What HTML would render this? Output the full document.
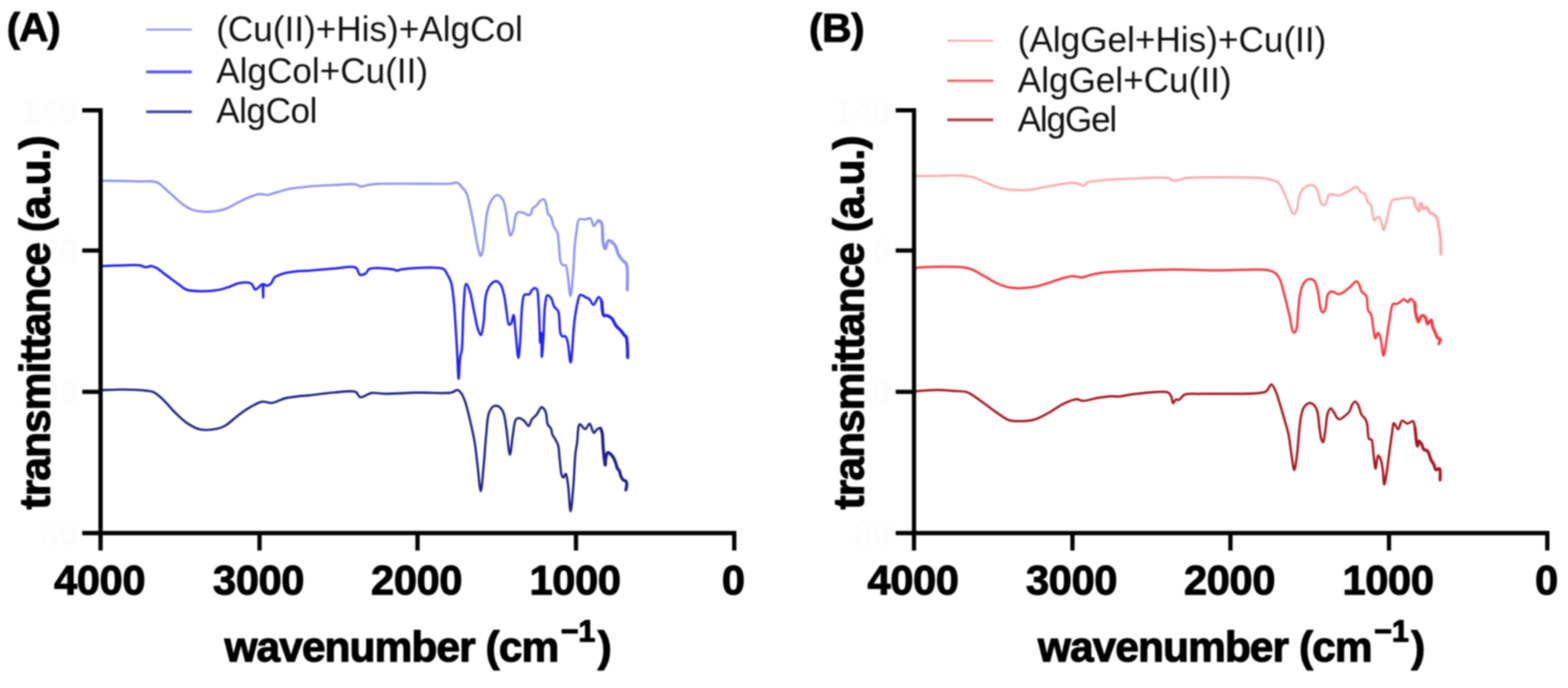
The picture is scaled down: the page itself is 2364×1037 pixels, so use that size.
<!DOCTYPE html>
<html><head><meta charset="utf-8"><title>FTIR spectra</title>
<style>
html,body{margin:0;padding:0;background:#fff;}
body{width:2364px;height:1037px;overflow:hidden;}
svg{display:block;}
text{font-family:"Liberation Sans",Arial,Helvetica,sans-serif;}
.b{font-weight:bold;fill:#000;}
.tick{font-size:63px;font-weight:bold;fill:#000;letter-spacing:-0.7px;stroke:#000;stroke-width:1.4px;stroke-linejoin:round;}
.ytick{font-size:52px;font-weight:bold;fill:#fdfdfd;}
.title{font-size:64px;font-weight:bold;fill:#000;letter-spacing:-1.4px;stroke:#000;stroke-width:1.6px;stroke-linejoin:round;}
.panel{font-size:62px;font-weight:bold;fill:#000;stroke:#000;stroke-width:1.2px;stroke-linejoin:round;}
.leg{font-size:53px;fill:#111;letter-spacing:0px;}
</style></head>
<body>
<svg width="2364" height="1037" viewBox="0 0 2364 1037">
<defs><filter id="soft" x="0" y="0" width="1" height="1" filterUnits="objectBoundingBox" color-interpolation-filters="sRGB"><feGaussianBlur stdDeviation="0.8"/></filter></defs>
<rect width="2364" height="1037" fill="#fff"/>
<g filter="url(#soft)">
<rect width="2364" height="1037" fill="#fff"/>
<g class="ytick">
<text x="118" y="184.7" text-anchor="end">140</text>
<text x="118" y="396.1" text-anchor="end">120</text>
<text x="118" y="609.1" text-anchor="end">100</text>
<text x="118" y="822" text-anchor="end">80</text>
<text x="1344.4" y="184.7" text-anchor="end">140</text>
<text x="1344.4" y="396.1" text-anchor="end">120</text>
<text x="1344.4" y="609.1" text-anchor="end">100</text>
<text x="1344.4" y="822" text-anchor="end">80</text>
</g>
<g fill="none" stroke-linejoin="round" stroke-linecap="round">
<path d="M151.6,272.8C152.2,272.8 153.3,272.6 155,272.6C160.3,272.5 178,272.6 188,272.8C196.4,273 203.6,273.4 211,273.5C218,273.6 226.1,272.7 231.2,273.5C234.4,274 236.1,274.5 238.8,276C242.7,278.2 247.3,283.1 251.5,286.8C255.8,290.5 259.9,294.5 264.2,298.2C268.4,301.9 272.5,306 276.9,309C281,311.8 284.8,314.3 289.6,316C295.2,317.9 302.2,318.9 308.6,319.2C314.9,319.5 322,318.8 327.7,317.9C332.4,317.2 336.3,316.2 340.4,314.7C344.7,313.1 348.4,310.7 353,308.4C358.7,305.6 365.6,301.6 372,298.9C378.3,296.3 385.3,293.1 391.1,292.5C395.7,292 399.6,294.2 403.8,293.8C408.1,293.4 411.8,291.3 416.5,290C422.2,288.4 429.6,286.1 435.5,284.9C440.6,283.8 445.1,283.3 450,282.7C455,282.1 459.1,281.6 465.4,281.1C475.3,280.3 491.3,279.4 503.5,278.9C514.9,278.4 529.6,276.5 536.4,277.9C539.7,278.6 540.8,280.8 543.4,281.1C546.6,281.5 550.4,279.5 554.2,278.9C558.2,278.2 561,277.7 566.9,277.3C580,276.4 610.4,277.1 630.4,277C648.3,276.9 671.7,277.6 681.1,276.6C684.8,276.2 686.5,274.6 688.7,275.1C690.7,275.5 692.7,277.5 693.8,278.6C694.4,279.3 694.4,279.8 695,280.6C696.3,282.3 699.8,285.6 701.4,288C702.7,290 703.4,291.3 704.3,293.9C705.9,298.3 707.4,305.9 708.9,312.4C710.5,319.7 712.1,327.6 713.6,335.5C715.2,343.8 716.7,353.3 718.2,361C719.4,367.3 720.4,373.7 721.7,378.3C722.6,381.4 723.5,385.9 724.5,385.9C725.4,385.9 726.6,382.5 727.4,379.5C729.1,373.2 729.7,359.3 730.9,349.4C732.1,339.7 732.5,328.8 734.4,320.5C735.9,313.9 737.3,307.7 740.2,303.1C742.6,299.2 746.3,294.2 749.4,293.9C752.1,293.7 755.5,296.9 757.5,299.7C760.1,303.3 760.8,309.1 762.1,314.7C763.7,321.5 764.2,330.8 765.6,337.9C766.8,344.1 768,355 769.7,355.2C770.9,355.3 772.6,350.5 773.7,347.1C775.4,341.9 775.5,331.2 777.2,326.3C778.2,323.4 778.8,320.9 780.7,319.9C782.8,318.8 787.1,320.3 789.9,321.1C792.5,321.9 795,324.5 796.9,324.5C798.2,324.5 799.4,323.9 800.3,322.8C801.6,321.2 801.1,317 802.6,314.7C804.2,312.3 807.6,311 809.6,308.9C811.4,306.9 812.3,304 814.2,302.6C815.8,301.4 818.3,300 819.8,300.5C821.3,301.1 822.2,303.7 823.1,306.2C824.6,310.2 824.5,319.1 826.4,322.6C827.5,324.7 829.3,324.7 830.5,326.7C832.4,329.8 832.8,336.5 834.6,340.7C836.2,344.4 838.9,346.5 840.3,350.5C842.1,355.8 842,363.3 842.8,370.2C843.7,377.9 843.4,389.9 845.2,394.8C846.1,397.2 847.1,399 848.5,399.7C849.7,400.3 851.5,398.8 852.6,399.7C854.7,401.4 854.9,408.5 855.9,414.4C857.4,423 858.8,446.3 860.1,446.3C861.5,446.3 863,423.3 864.1,411.1C865.2,398 865.6,381.4 866.6,370.2C867.3,362.4 867.9,357 869,350.5C870.1,343.9 869.9,333.4 873.1,330.8C875.3,329 879.2,331.1 882.1,330.8C884.9,330.5 888.2,328.1 890.3,329.2C892.9,330.6 893.2,340.4 895.2,340.7C897.1,341 899.6,332.8 901.8,332.5C903.4,332.2 905.5,333.6 906.7,335.7C909.5,340.4 907.7,358 909.2,365.2C910.1,369.4 911.2,375.1 912.5,375.1C913.9,375.1 914.9,363.6 917.4,362.8C919.7,362.1 924,365.6 926.4,368.5C929.5,372.3 930.5,380.5 933,384.9C935,388.3 937.4,390.8 939.5,393.1C941.2,395 943.2,395.2 944.4,398C947.3,404.6 945.5,430.5 945.7,437" stroke="#9090f6" stroke-width="3.4" />
<path d="M901.8,332.5C902.6,333 905.5,333.6 906.7,335.7C909.5,340.4 907.7,358 909.2,365.2C910.1,369.4 911.2,375.1 912.5,375.1C913.9,375.1 914.9,363.6 917.4,362.8C919.7,362.1 924,365.6 926.4,368.5C929.5,372.3 930.5,380.5 933,384.9C935,388.3 937.4,390.8 939.5,393.1C941.2,395 943.2,395.2 944.4,398C947.3,404.6 945.5,430.5 945.7,437" stroke="#9090f6" stroke-width="4.6" />
<path d="M151.6,400.9C152,400.9 152.7,400.9 153.8,400.9C157.3,400.9 167.3,400.4 175.4,400.3C185.8,400.1 203.1,398.8 210.9,400C214.9,400.6 216.9,402.7 219.8,402.8C222.4,402.9 224.8,400.8 227.4,400.9C230.3,401 233.1,402.4 236.3,404.1C240.9,406.6 246.1,411.5 251.5,415.5C257.5,419.9 265.2,425.7 270.6,429.5C274.5,432.3 276.5,434.9 280.7,436.5C286.3,438.6 294.6,438.8 302.3,439C311,439.2 322.2,438.4 330.2,436.9C336.5,435.7 341.6,433.8 346.7,432C351.2,430.4 354.6,427.9 359.4,427C365,426 374.1,424.9 378.4,427.2C381.7,429 382.6,436 384.8,436.5C386.4,436.8 388.3,434.5 389.8,433.3C391.2,432.2 392.5,430.4 393.7,429.5C394.6,428.9 395.7,427.8 396.3,428.2C398,429.2 396.6,448.5 396.8,448.5C397,448.5 395.1,429.5 397.3,428.2C398.5,427.5 400.7,430.9 402.5,430.8C404.5,430.7 407.1,428.8 408.9,427C411,424.8 411.3,420.5 414,418.1C417.4,415.1 423.6,413.3 429.2,411.7C435.5,409.9 443.6,409.2 450,408.6C455.5,408.1 459.1,408.3 465.4,407.9C475.3,407.3 491.3,405.4 503.5,404.7C514.9,404 530.1,400 536.4,403.5C540.3,405.6 540,413.2 542.8,414.3C545.2,415.3 549.3,413.3 551.7,411.7C553.9,410.2 553.8,406.8 556.8,405.4C563,402.5 585.3,404.9 592.3,406C595.3,406.5 596.5,407.9 598.6,407.9C600.7,407.9 601.7,406.5 605,406C615.1,404.5 659.5,401.1 668.4,405.4C671.6,406.9 671.7,409 673.3,411.6C675.5,415.1 678.1,419.5 679.8,424.8C682.1,431.9 682.8,441.8 683.9,451C685.1,461.3 685.6,472.3 686.4,483.8C687.3,496.7 688.1,510.7 688.9,524.8C689.8,539.7 690.6,571 691.5,571C692.3,571 692.6,545.7 693.8,537.9C694.5,533.6 695.5,532.7 696.2,528C697.8,516.4 697.4,485.4 698.7,467.4C699.8,452.8 700.2,428.5 702.8,428C704.3,427.7 706.8,434.7 708.5,439.5C711,446.7 712.3,458 714.3,467.4C716.4,477.1 718.4,490.2 720.8,496.9C722.1,500.6 723.7,505.2 724.9,505.1C726.6,504.9 727.8,494.4 729,487C730.8,475.5 730.1,453.4 733.1,442.8C734.9,436.3 737.3,431.2 740.5,428C742.9,425.6 746.2,423.6 748.7,423.9C751.1,424.2 753.4,426.9 755.2,429.7C757.7,433.6 758.9,440.2 760.2,446.1C761.7,452.7 762.2,460.2 763.4,467.4C764.6,474.7 765.3,488.6 767.5,489.5C768.4,489.9 769.9,488.4 770.8,487C772.4,484.6 773.1,474.7 774.1,474.8C775.5,474.9 776.3,492 777.4,501.8C778.7,513.3 780.3,539.5 781.5,539.5C782.6,539.5 783.5,522.4 784.4,511.6C785.6,496.9 785.7,471.3 787.4,459.2C788.3,452.7 788.2,446.7 790.7,444.4C792.4,442.8 796.2,444.8 798,443.6C799.7,442.5 799.9,439.5 801.3,437.9C802.7,436.4 804.7,434.4 806.2,434.3C807.4,434.2 808.6,434.9 809.5,436.2C811.7,439.5 811.3,450.7 812,459.2C812.8,469.8 813.2,484.8 813.6,495.2C813.9,503.3 813.9,516.6 814.4,516.6C814.8,516.6 815.7,501.8 816.1,501.8C816.7,501.8 816.3,537.9 816.9,537.9C817.4,537.9 818.6,519.5 819.3,508.4C820.2,494.1 820.2,470.6 821.8,459.2C822.7,453.1 823,446 825.1,445.2C826.5,444.7 829.2,447.2 830.8,449.3C833.1,452.3 833.6,459 835.7,462.5C837.3,465.2 840,465.7 841.5,469C844.4,475.5 843.1,495.8 844.8,501.8C845.5,504.2 845.9,505.9 847.2,506.7C848.4,507.5 850.8,505.9 852.1,506.7C853.7,507.7 854.4,510.1 855.4,513.3C857.5,520 858.7,546.3 860.2,546.3C862.1,546.3 863.9,504.4 865.2,492C865.9,485.5 866.2,482.5 867,477.1C868,470.6 869.3,461.4 870.9,455.5C872,451.2 872.4,445.7 874.7,444.7C876.9,443.7 881.5,447.4 884,448.6C885.8,449.4 887.1,449.6 888.6,450.9C890.7,452.7 892.7,459.4 894.8,459.4C897.3,459.3 900.2,447.9 902.5,447.8C904.2,447.8 905.9,451.1 907.1,454C909.1,458.9 907.6,473.3 910.2,475.6C911.4,476.6 913.1,475.1 914.8,475.6C917.1,476.2 920.3,478 922.5,480.2C925.1,482.8 926.3,487.8 928.7,491C931,494 934.2,496.2 936.4,498.7C938.2,500.8 939.6,503.2 941,504.9C942.1,506.2 943.3,506.2 944.1,508C946.3,512.8 946,533.7 946.4,538.8" stroke="#1e1eff" stroke-width="3.5" />
<path d="M907.1,454C907.6,457.6 907.6,473.3 910.2,475.6C911.4,476.6 913.1,475.1 914.8,475.6C917.1,476.2 920.3,478 922.5,480.2C925.1,482.8 926.3,487.8 928.7,491C931,494 934.2,496.2 936.4,498.7C938.2,500.8 939.6,503.2 941,504.9C942.1,506.2 943.3,506.2 944.1,508C946.3,512.8 946,533.7 946.4,538.8" stroke="#1e1eff" stroke-width="4.7" />
<path d="M151.6,588C152,588 152.6,588 153.8,588C158.2,587.9 174.7,587 185.5,587.1C196.7,587.2 211.5,587.8 219.8,588.8C224.6,589.4 227.4,589.2 231.2,590.9C235.9,593 240.4,597.3 245.2,601.7C251.3,607.2 257.7,615.7 264.2,622C270.4,628 276.5,634.2 283.2,638.5C289.3,642.5 295.3,646 302.3,647.4C310,648.9 320.8,647.6 327.7,646.1C332.8,645 336,643.7 340.4,641.1C346.3,637.6 353,630.5 359.4,625.8C365.6,621.2 372.2,616.6 378.4,613.1C384,610 389.4,606.4 394.9,605.5C400,604.7 404.9,608 410.2,607.4C416.3,606.7 422.6,602.2 429.2,600.5C435.9,598.8 443.6,598.1 450,597.3C455.5,596.6 459.1,596.6 465.4,596C475.3,595 491.2,592.4 503.5,591.6C514.9,590.8 530,588 536.4,590.9C539.9,592.5 540,597.8 542.8,598.6C545.8,599.5 551,595.9 554.2,594.7C556.7,593.8 557.8,592.6 560.6,592.2C565.2,591.5 571.7,593.4 579.6,593.5C592.4,593.7 613.5,592.1 630.4,591.8C647.3,591.5 671.5,593.7 681.1,591.6C685.2,590.7 687,587.5 689.4,587.8C691.6,588 693.4,590.1 695.1,592.2C697.5,595.1 699.1,599.6 701,604.7C703.7,612 706,622.4 708.3,632.1C710.9,643 713.7,655.2 715.7,667C717.7,679 718.7,691.4 720.2,703.6C721.7,715.8 723.3,740.3 724.8,740.3C726.4,740.3 728,713.9 729.4,700C730.8,685.2 731.6,668.1 733.1,654.1C734.4,642.2 734.4,628.5 737.6,621.2C739.5,616.8 742.2,613.1 745,612C747.2,611.1 750.2,611.7 752.3,612.9C754.9,614.4 757,617.5 758.7,621.2C761.3,626.9 761.8,636 763.3,645C765.2,656.7 767,685.3 768.8,685.3C770.4,685.3 771.7,663.6 773.4,654.1C774.8,646.1 775.1,635.4 778,632.1C779.5,630.4 781.6,630.1 783.5,630.3C785.8,630.6 788.6,633 790.8,634.9C793.2,636.9 795.4,642.5 797.2,642.2C799.1,641.9 799.8,635 801.8,632.1C803.8,629.3 806.8,627.6 809.1,624.8C811.7,621.6 814.1,614.2 816.4,613.8C818,613.6 819.9,616 821,617.5C822.2,619.1 822.6,620.7 823.3,623.1C824.4,627.1 824,635.4 825.7,639.5C826.9,642.4 829.5,643.5 830.7,646.1C832,648.9 831.9,653.3 833.1,655.9C834,657.9 835.3,658.8 836.4,660.8C838,663.5 840.1,666.6 841.3,670.7C843,676.3 842.9,684.6 843.8,692C844.8,699.9 845.2,712.4 847,716.6C847.7,718.3 848.7,719.9 849.5,719.8C850.6,719.7 851.8,714 852.8,714.1C854.2,714.3 855.1,722.1 856.1,728C857.8,738.3 858.8,770.7 860.2,770.7C861.5,770.7 863.1,747.7 864.3,734.6C865.7,719.1 866.2,696 867.5,683.8C868.3,676.8 869.1,673.6 870,667.4C871.2,659.3 870.9,640.7 874.1,639.5C876.1,638.8 879.8,647.1 882.3,646.9C884.7,646.7 886.9,638.5 888.9,638.7C891.3,639 893.1,652.3 895.4,652.6C897,652.8 898.4,648.1 900.3,646.9C901.9,645.9 904.3,644.8 905.5,645.5C906.9,646.3 907.2,649.3 907.8,652.2C908.9,657.4 908.8,667.4 909.4,674.4C909.9,680.6 910.5,687.2 911.1,692.1C911.5,695.6 912.1,701 912.5,701C913,701 912.9,691.1 913.9,687.7C914.6,685.4 915.3,682.4 916.6,682.1C917.9,681.8 920.2,684.2 921.6,685.5C922.9,686.8 923.9,688.2 924.9,689.9C926.2,692.1 927.4,695.1 928.3,697.7C929.2,700.2 929.4,703.3 930.5,705.4C931.4,707.2 932.9,708 933.8,709.8C934.9,712 935,715.3 936,717.6C936.9,719.7 938,721.9 939.4,723.2C940.6,724.3 942.9,724.2 943.8,725.4C944.7,726.5 944.9,728.2 945,730C945.1,732.4 943.8,737.1 943.5,738.5" stroke="#1e1e8a" stroke-width="3.4" />
<path d="M905.5,645.5C905.9,646.6 907.2,649.3 907.8,652.2C908.9,657.4 908.8,667.4 909.4,674.4C909.9,680.6 910.5,687.2 911.1,692.1C911.5,695.6 912.1,701 912.5,701C913,701 912.9,691.1 913.9,687.7C914.6,685.4 915.3,682.4 916.6,682.1C917.9,681.8 920.2,684.2 921.6,685.5C922.9,686.8 923.9,688.2 924.9,689.9C926.2,692.1 927.4,695.1 928.3,697.7C929.2,700.2 929.4,703.3 930.5,705.4C931.4,707.2 932.9,708 933.8,709.8C934.9,712 935,715.3 936,717.6C936.9,719.7 938,721.9 939.4,723.2C940.6,724.3 942.9,724.2 943.8,725.4C944.7,726.5 944.9,728.2 945,730C945.1,732.4 943.8,737.1 943.5,738.5" stroke="#1e1e8a" stroke-width="4.6" />
<path d="M1378,265.4C1378.1,265.4 1378.2,265.4 1378.5,265.4C1381,265.4 1403.2,265.3 1414.1,265.1C1423.3,264.9 1431.6,264.3 1439.5,264.4C1446.3,264.5 1452.8,264.5 1458.5,265.4C1463.2,266.1 1466.6,267 1471.2,268.6C1477,270.6 1483.8,274.3 1490.2,276.8C1496.5,279.3 1502.8,282.2 1509.2,283.8C1515.5,285.3 1521.5,285.9 1528.3,286.3C1536.1,286.7 1545.3,286.7 1553.7,285.9C1562.2,285.1 1570.6,282.7 1579,281.2C1587.5,279.7 1597.4,277.8 1604.4,276.8C1609.3,276.1 1613.1,275.3 1617.1,275.5C1620.7,275.6 1624.3,276.5 1627.3,277.4C1629.7,278.1 1631.6,280.3 1633.6,280C1635.8,279.7 1637.2,276.1 1640,274.9C1643.8,273.2 1649.7,273.1 1655.2,272.4C1661.6,271.6 1668.5,271 1676,270.5C1684.7,269.9 1693,269.7 1704.1,269.4C1720,269 1752.9,266.1 1762.4,268.6C1765.8,269.5 1766.3,271.9 1768.8,272.4C1772,273 1777,271.2 1780.2,270.5C1782.7,269.9 1783.1,269.1 1786.6,268.6C1801.6,266.4 1892.1,267 1907.1,268.9C1910.6,269.3 1911,269.8 1913.5,270.5C1917,271.5 1923,272 1926.2,274.3C1929.1,276.4 1930.6,279.7 1932.5,283.1C1934.8,287.1 1936.8,292.2 1938.8,297.1C1941,302.3 1943,309 1945.2,313.6C1946.9,317.1 1948.5,322.4 1950.3,322.5C1951.8,322.6 1953.8,319.3 1955.1,316.5C1957.2,311.9 1956.8,302 1958.7,296.3C1960.2,291.8 1961.6,287.6 1964.5,284.7C1967.4,281.8 1972.6,279.1 1976,278.9C1978.7,278.8 1981.4,280 1983.3,281.8C1985.5,284 1986.3,288.2 1987.6,291.9C1989.2,296.3 1990,303.6 1991.9,306.4C1993,308 1994.4,309.3 1995.6,309.3C1996.8,309.3 1998.1,307.9 1999.2,306.4C2001,303.8 2001.4,295.2 2003.5,293.4C2004.7,292.4 2006.1,292.7 2007.8,292.7C2010.5,292.8 2014.9,295.1 2018,294.8C2020.6,294.6 2022.7,293 2025.2,291.9C2028,290.7 2030.8,289.1 2033.9,287.6C2037.5,285.8 2042.4,281.2 2045.4,281.8C2047.9,282.3 2049,287 2051.2,289C2053.4,290.9 2056.7,291.1 2058.5,293.4C2060.6,296.1 2060.3,302.6 2062.1,305C2063.3,306.6 2065.3,306.2 2066.4,307.8C2068.3,310.6 2068.2,317.9 2069.3,322.3C2070.2,326 2070.6,332 2072.2,332.4C2073.6,332.8 2076.3,326.5 2078,326.6C2079.4,326.7 2080.5,328.9 2081.6,331C2083.4,334.5 2084.4,346.9 2085.9,346.9C2087.3,346.9 2088.9,337.5 2090.3,332.4C2091.8,326.9 2093.1,320.4 2094.6,315.1C2096,310.4 2096.2,304.6 2098.9,302.1C2101.3,299.9 2106,300.6 2109.1,299.9C2111.7,299.3 2113.7,298.8 2116.3,298.4C2119.4,298 2123.7,297.2 2126.4,297.6C2128.4,297.9 2130,298.3 2131.3,299.7C2133.2,301.9 2133.2,308 2134.7,311.3C2136,314 2138.2,318.4 2139.4,318.2C2140.8,317.9 2140.9,306.7 2142.2,306.6C2143.3,306.5 2144.6,314.1 2146.3,314.7C2147.6,315.1 2149.5,312 2150.9,312.4C2152.8,313 2153.7,318.8 2155.6,320.5C2157,321.8 2158.6,321.8 2160.2,322.8C2162.1,324 2164.5,325.1 2166,327.5C2168.2,331.1 2168.4,338.2 2169.4,343.7C2170.4,349.4 2171.3,354.9 2171.8,361C2172.4,367.9 2172.2,379.3 2172.3,383" stroke="#fbabae" stroke-width="3.4" />
<path d="M2131.3,299.7C2131.9,301.6 2133.2,308 2134.7,311.3C2136,314 2138.2,318.4 2139.4,318.2C2140.8,317.9 2140.9,306.7 2142.2,306.6C2143.3,306.5 2144.6,314.1 2146.3,314.7C2147.6,315.1 2149.5,312 2150.9,312.4C2152.8,313 2153.7,318.8 2155.6,320.5C2157,321.8 2158.6,321.8 2160.2,322.8C2162.1,324 2164.5,325.1 2166,327.5C2168.2,331.1 2168.4,338.2 2169.4,343.7C2170.4,349.4 2171.3,354.9 2171.8,361C2172.4,367.9 2172.2,379.3 2172.3,383" stroke="#fbabae" stroke-width="4.6" />
<path d="M1378,403.5C1378.3,403.5 1378.8,403.5 1379.8,403.5C1383.6,403.4 1397.3,402.3 1407.7,402.2C1420.8,402 1441.8,401.8 1452.1,403.1C1457.7,403.8 1460.3,404.3 1464.8,406C1470.7,408.2 1477.6,412.7 1483.9,416.2C1490.3,419.7 1496.4,424.1 1502.9,427C1509.1,429.8 1515.5,432.1 1521.9,433.3C1528.2,434.5 1534.6,434.5 1541,434.3C1547.3,434.1 1553.7,433.5 1560,432.3C1566.4,431.1 1572.2,429 1579,427C1586.9,424.6 1597.3,420.5 1604.4,418.7C1609.3,417.4 1612.7,416.4 1617.1,416.2C1621.9,416 1627.8,418.5 1632.3,418.1C1636.1,417.8 1638.5,415.9 1642.5,414.9C1647.8,413.5 1655.6,412 1661.5,411.1C1666.6,410.4 1670.2,410.2 1676,409.8C1684.8,409.2 1696.7,408.7 1709.4,408.2C1726.1,407.5 1746.9,406.5 1767.3,406.3C1790.1,406.1 1815.5,407.4 1839.6,407.5C1863.7,407.6 1898.9,404.8 1911.9,407.2C1916.9,408.1 1919.1,409 1922,411.1C1925,413.3 1927.2,416.4 1929.3,420.5C1932.4,426.6 1934.2,436.5 1936.5,445.1C1939,454.3 1941.3,464.5 1943.7,474C1946,483.3 1947.9,500.9 1950.5,501.5C1951.7,501.8 1953.3,499.4 1954.3,497C1956.5,491.9 1956.2,478.5 1957.2,469.5C1958.2,460.7 1958.4,451.2 1960.1,443.5C1961.5,437.1 1962.8,430.1 1965.9,426.2C1968.3,423.1 1972.4,420.4 1975.3,420.4C1977.9,420.4 1980.6,422.2 1982.5,424.7C1985.4,428.5 1986.1,436.8 1987.6,443.5C1989.3,451.1 1989.8,464 1991.9,468.1C1992.8,469.7 1993.8,471.1 1994.8,471C1996,470.9 1997.4,467.9 1998.4,465.2C2000.2,460.4 1999.5,447.7 2002.1,443.5C2003.6,441.1 2005.5,439.5 2007.8,439.2C2010.6,438.8 2014.9,443.5 2018,443.5C2020.6,443.5 2022.7,442 2025.2,440.6C2028.4,438.7 2032,435.4 2035.3,432.7C2038.7,429.9 2042.9,423.7 2045.4,424C2047.4,424.3 2048.6,428.1 2049.8,430.5C2051.1,433.1 2051.1,436.6 2052.7,439.2C2054.4,441.9 2058.2,443 2059.9,446.4C2062.4,451.4 2060.9,463.3 2062.8,468.1C2063.9,470.8 2066,471.3 2067.1,473.9C2068.8,478 2068.9,485.3 2070,491.2C2071.1,497.3 2072.1,509.8 2073.6,510C2074.7,510.1 2076,501.5 2077.3,501.4C2078.4,501.3 2079.8,504.3 2080.9,507.1C2083.1,512.9 2084.2,536.1 2085.9,536.1C2087.4,536.1 2088.9,521.1 2090.3,512.9C2091.8,503.8 2092.9,493.3 2094.6,484C2096.3,475.1 2097.3,460.3 2100.4,458C2101.7,457.1 2103.3,458.6 2104.8,458.3C2106.6,457.9 2108.7,456.6 2110.6,455.4C2112.6,454.2 2114.4,451.2 2116.4,451.1C2118.5,451 2121.5,455.8 2123.1,455.4C2124.5,455.1 2124.7,450.8 2126,450.6C2127.7,450.3 2131.3,453.5 2132.8,456.4C2134.9,460.4 2133.6,468.7 2134.7,473.8C2135.6,478.1 2137.3,485.2 2138.6,485.3C2139.6,485.3 2140.3,480.3 2141.5,478.6C2142.4,477.3 2143.2,475.8 2144.4,475.7C2145.7,475.5 2148,477 2149.2,478.6C2150.8,480.7 2150.5,487.8 2152.1,488.2C2153.5,488.6 2156.6,482 2157.9,482.4C2159.3,482.8 2158.8,489 2159.8,492.1C2160.7,495.1 2162.3,497.9 2163.6,500.8C2164.9,503.7 2165.8,507.7 2167.5,509.4C2168.6,510.6 2170.9,510.2 2171.4,511.4C2172,512.9 2169.7,517 2169.4,518.1" stroke="#f43a42" stroke-width="3.5" />
<path d="M2132.8,456.4C2133.1,459.3 2133.6,468.7 2134.7,473.8C2135.6,478.1 2137.3,485.2 2138.6,485.3C2139.6,485.3 2140.3,480.3 2141.5,478.6C2142.4,477.3 2143.2,475.8 2144.4,475.7C2145.7,475.5 2148,477 2149.2,478.6C2150.8,480.7 2150.5,487.8 2152.1,488.2C2153.5,488.6 2156.6,482 2157.9,482.4C2159.3,482.8 2158.8,489 2159.8,492.1C2160.7,495.1 2162.3,497.9 2163.6,500.8C2164.9,503.7 2165.8,507.7 2167.5,509.4C2168.6,510.6 2170.9,510.2 2171.4,511.4C2172,512.9 2169.7,517 2169.4,518.1" stroke="#f43a42" stroke-width="4.7" />
<path d="M1378,590C1378.1,590 1378.2,590 1378.5,590C1380.9,589.9 1400.9,587.9 1411.5,587.8C1421.2,587.7 1431.2,588.7 1439.5,589.3C1446.1,589.8 1452.6,589.6 1457.2,590.9C1460.4,591.8 1461.8,592.9 1464.8,594.7C1469.8,597.7 1477.6,603.6 1483.9,608.1C1490.3,612.7 1496.5,617.7 1502.9,622C1509.1,626.2 1515.3,631.4 1521.9,633.5C1528,635.4 1534.7,634.9 1541,634.7C1547.4,634.5 1553.8,634 1560,632.2C1566.5,630.3 1572.3,626.9 1579,623.3C1587,619.1 1596.3,611.8 1604.4,608.1C1611,605 1618.3,601.8 1623.5,601.7C1627,601.6 1628.7,604.1 1632.3,604.3C1638.1,604.6 1647.7,601 1655.2,599.8C1662.3,598.7 1670,597.6 1676,597.3C1680.4,597.1 1683.2,597.9 1687.7,597.6C1693.8,597.2 1700.6,594.9 1709.4,594C1723,592.6 1754,588.2 1761.5,591.8C1764.3,593.1 1764.7,595.3 1765.8,597.6C1767.2,600.4 1767.3,607.4 1768.7,607.7C1769.8,607.9 1771.3,602.7 1773,602C1774.3,601.5 1775.8,603.2 1777.4,602.7C1780,601.9 1782.1,596.4 1786.1,594.7C1791.9,592.3 1800,593.9 1810.7,593.6C1830.8,593 1882,594.4 1897.4,592.5C1903.1,591.8 1905.8,591.8 1909,589.7C1912.4,587.5 1914.6,579.3 1917,579.5C1919.4,579.7 1921.6,586.2 1923.5,590.4C1925.8,595.4 1927.3,601.4 1929.3,607.7C1931.6,615.2 1934.2,624.3 1936.5,632.3C1938.7,639.9 1940.9,646.6 1942.6,654.6C1944.5,663.7 1945.4,674.8 1946.9,684.1C1948.3,692.6 1949.8,708.4 1951.3,708.4C1952.7,708.4 1954.4,693.1 1955.6,684.1C1957.1,672.8 1957.9,656.4 1959.1,645.9C1960,638.4 1960.4,632.5 1961.7,626.8C1962.8,622 1963.7,617.1 1966,613.8C1968,610.9 1971.1,607.7 1973.8,607.4C1976.3,607.1 1979.6,609.2 1981.6,611.2C1983.7,613.3 1984.8,616.1 1986,619.9C1987.9,626.1 1988.3,638.3 1989.4,645.9C1990.3,651.8 1990.8,657.8 1992,661.5C1992.7,663.8 1993.8,666.8 1994.6,666.7C1996,666.5 1997,655.8 1998.1,649.4C1999.4,641.6 1999.6,629.4 2001.6,623.4C2002.8,619.9 2004.3,615.8 2005.9,615.6C2007.4,615.4 2009.5,619.3 2011.1,621.6C2013,624.2 2014.5,628.6 2016.3,630.3C2017.4,631.3 2018.5,632.1 2019.8,632C2021.7,631.9 2024.4,629.5 2026.7,627.7C2029.4,625.6 2032.6,622.9 2034.6,619.9C2036.6,616.9 2037.2,612.1 2038.9,609.5C2040.2,607.6 2041.8,605.1 2043.2,605.2C2044.7,605.3 2046.3,608.1 2047.6,610.4C2049.6,613.9 2050.6,621.3 2052.8,625.1C2054.5,628 2057.4,629.4 2058.8,632C2060.2,634.6 2060.7,637.1 2061.4,640.7C2062.5,646.1 2061.7,658.9 2064,661.5C2065,662.6 2066.6,661.4 2067.6,662.5C2070,665.2 2069.7,677.4 2070.8,684.8C2071.8,692.1 2072.7,706.4 2073.9,706.4C2075,706.4 2075.9,686.8 2077.7,686.4C2078.8,686.2 2080.5,689.9 2081.6,692.5C2083.2,696.4 2083.8,702.3 2084.7,708C2085.7,714.7 2085.9,730.3 2087,730.3C2088,730.3 2089.6,718.2 2090.8,711.1C2092.2,702.4 2093.4,691.4 2094.7,681.8C2096,672.4 2097.3,662 2098.6,654C2099.6,647.9 2099.8,638.2 2101.6,637.8C2103.1,637.5 2105.9,647.1 2107.8,647C2110,646.8 2111.3,634.7 2114,633.9C2116.2,633.3 2119,638.4 2121.7,638.6C2124.4,638.8 2128.3,633.8 2130.2,634.7C2132.2,635.6 2132.4,640.5 2133.3,644.7C2134.8,651.6 2135.7,672.4 2137.1,672.5C2137.8,672.6 2138.2,665 2139.4,664.8C2140.4,664.6 2142.2,667.6 2143.3,669.4C2144.6,671.6 2144.7,675.3 2146.4,677.1C2147.9,678.8 2150.8,678.4 2152.5,680.2C2154.8,682.8 2155.5,688.9 2157.2,692.5C2158.6,695.5 2160.5,697.7 2161.8,700.3C2163,702.8 2163.2,707.2 2164.9,708C2166.3,708.7 2169.1,705.5 2170.3,706.4C2172.4,707.9 2171,720.6 2171.1,723.4" stroke="#a8161e" stroke-width="3.5" />
<path d="M2133.3,644.7C2133.9,649.3 2135.7,672.4 2137.1,672.5C2137.8,672.6 2138.2,665 2139.4,664.8C2140.4,664.6 2142.2,667.6 2143.3,669.4C2144.6,671.6 2144.7,675.3 2146.4,677.1C2147.9,678.8 2150.8,678.4 2152.5,680.2C2154.8,682.8 2155.5,688.9 2157.2,692.5C2158.6,695.5 2160.5,697.7 2161.8,700.3C2163,702.8 2163.2,707.2 2164.9,708C2166.3,708.7 2169.1,705.5 2170.3,706.4C2172.4,707.9 2171,720.6 2171.1,723.4" stroke="#a8161e" stroke-width="4.7" />
</g>
<g fill="none" stroke="#000" stroke-width="6.4" stroke-linejoin="miter" stroke-linecap="butt">
<path d="M124,166.2 H151.6 V829.8" />
<path d="M124,803.5 H1107 V829.8" />
<path d="M124,377.6 H151.6" />
<path d="M124,590.6 H151.6" />
<path d="M391.3,803.5 V829.8" />
<path d="M629.5,803.5 V829.8" />
<path d="M868.4,803.5 V829.8" />
<path d="M1350.4,166.2 H1378 V829.8" />
<path d="M1350.4,803.5 H2332.8 V829.8" />
<path d="M1350.4,377.6 H1378" />
<path d="M1350.4,590.6 H1378" />
<path d="M1616.9,803.5 V829.8" />
<path d="M1855.1,803.5 V829.8" />
<path d="M2094.1,803.5 V829.8" />
</g>
<g class="tick">
<text x="150.1" y="895.6" text-anchor="middle">4000</text>
<text x="389.8" y="895.6" text-anchor="middle">3000</text>
<text x="628" y="895.6" text-anchor="middle">2000</text>
<text x="866.9" y="895.6" text-anchor="middle">1000</text>
<text x="1105.5" y="895.6" text-anchor="middle">0</text>
<text x="1376.5" y="895.6" text-anchor="middle">4000</text>
<text x="1615.4" y="895.6" text-anchor="middle">3000</text>
<text x="1853.6" y="895.6" text-anchor="middle">2000</text>
<text x="2092.6" y="895.6" text-anchor="middle">1000</text>
<text x="2331.3" y="895.6" text-anchor="middle">0</text>
</g>
<text class="panel" x="10" y="62.4" style="letter-spacing:-2.2px">(A)</text>
<text class="panel" x="1219.6" y="62.5" style="letter-spacing:-1px">(B)</text>
<line x1="220.4" y1="44.7" x2="289.2" y2="44.7" stroke="#8e8ef7" stroke-width="2.8" />
<text x="325.9" y="61.5" class="leg">(Cu(II)+His)+AlgCol</text>
<line x1="220.4" y1="108.4" x2="289.2" y2="108.4" stroke="#5050fa" stroke-width="4.4" />
<text x="325.9" y="124.6" class="leg">AlgCol+Cu(II)</text>
<line x1="220.4" y1="168.5" x2="289.2" y2="168.5" stroke="#3d3da3" stroke-width="4.2" />
<text x="325.9" y="185.3" class="leg" style="letter-spacing:-0.7px">AlgCol</text>
<line x1="1428.2" y1="61.3" x2="1497.4" y2="61.3" stroke="#fba2a5" stroke-width="2.8" />
<text x="1534.3" y="78" class="leg">(AlgGel+His)+Cu(II)</text>
<line x1="1428.2" y1="121.8" x2="1497.4" y2="121.8" stroke="#fa5c60" stroke-width="3.4" />
<text x="1534.3" y="138.8" class="leg">AlgGel+Cu(II)</text>
<line x1="1428.2" y1="180.6" x2="1497.4" y2="180.6" stroke="#b9393d" stroke-width="4.2" />
<text x="1534.3" y="197.5" class="leg" style="letter-spacing:-1.8px">AlgGel</text>
<text class="title" x="338.4" y="997.4">wavenumber (cm</text>
<text class="title" x="845.4" y="967.2" style="font-size:46px">&#8722;</text>
<text class="title" x="872" y="967.2" style="font-size:46px">1</text>
<text class="title" x="901" y="997.4">)</text>
<text class="title" x="1564.8" y="997.4">wavenumber (cm</text>
<text class="title" x="2071.8" y="967.2" style="font-size:46px">&#8722;</text>
<text class="title" x="2098.4" y="967.2" style="font-size:46px">1</text>
<text class="title" x="2127.4" y="997.4">)</text>
<text class="title" transform="translate(75.2,486.8) rotate(-90)" text-anchor="middle">transmittance (a.u.)</text>
<text class="title" transform="translate(1301.6,486.8) rotate(-90)" text-anchor="middle">transmittance (a.u.)</text>
</g>
</svg>
</body></html>
